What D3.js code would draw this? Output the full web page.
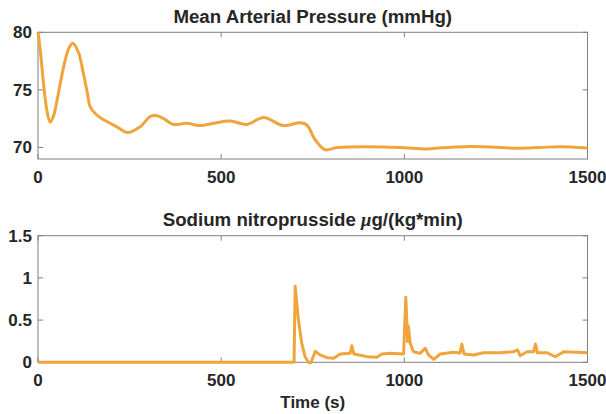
<!DOCTYPE html>
<html>
<head>
<meta charset="utf-8">
<script src="https://cdn.jsdelivr.net/npm/d3@7"></script>
<style>
  body { margin: 0; background: #fff; }
  svg text { font-family: Arial, "Liberation Sans", sans-serif; font-weight: bold; fill: #262626; }
</style>
</head>
<body>
<svg id="chart" width="606" height="414"></svg>
<script>
// Mean arterial pressure (mmHg) over time (s)
const mapTime = [0, 6, 15, 24, 33, 42, 52, 61, 70, 84, 95, 111, 124, 135, 143, 165, 197, 220, 243, 279, 307, 325, 343, 370, 406, 443, 479, 525, 570, 616, 670, 716, 734, 757, 784, 816, 898, 989, 1062, 1100, 1162, 1250, 1307, 1370, 1425, 1500];
const mapValue = [80, 78.5, 75.6, 73.25, 72.2, 72.7, 74.1, 75.6, 77.0, 78.6, 79.05, 78.2, 76.4, 74.7, 73.5, 72.7, 72.1, 71.7, 71.3, 71.8, 72.7, 72.75, 72.5, 72.0, 72.1, 71.9, 72.1, 72.3, 72.0, 72.6, 71.9, 72.15, 71.95, 70.65, 69.8, 70.0, 70.07, 70.0, 69.87, 69.97, 70.07, 70.03, 69.93, 70.0, 70.07, 69.95];

// Sodium nitroprusside dose µg/(kg*min) over time (s)
const snpTime = [0, 699, 702, 711, 720, 729, 738, 745, 757, 770, 789, 807, 825, 852, 857, 862, 898, 925, 939, 961, 998, 1004, 1009, 1011, 1016, 1025, 1043, 1057, 1066, 1080, 1098, 1134, 1152, 1157, 1163, 1189, 1216, 1262, 1298, 1309, 1316, 1335, 1353, 1358, 1363, 1389, 1412, 1435, 1500];
const snpValue = [0, 0, 0.90, 0.50, 0.225, 0.066, 0.0, -0.005, 0.13, 0.087, 0.055, 0.047, 0.098, 0.106, 0.197, 0.098, 0.067, 0.06, 0.098, 0.106, 0.098, 0.77, 0.245, 0.43, 0.225, 0.125, 0.106, 0.166, 0.087, 0.035, 0.098, 0.118, 0.11, 0.213, 0.098, 0.087, 0.114, 0.114, 0.125, 0.146, 0.078, 0.125, 0.125, 0.217, 0.114, 0.114, 0.066, 0.125, 0.114];

const xTicks = [0, 500, 1000, 1500];
const mapTicks = [70, 75, 80];
const snpTicks = [0, 0.5, 1, 1.5];

const svg = d3.select("#chart");
const left = 38, right = 587.5;
const lineColor = "#efa43c";
const axisColor = "#808080";

function drawPanel(opts) {
  const x = d3.scaleLinear().domain([0, 1500]).range([left, right]);
  const y = d3.scaleLinear().domain(opts.yDomain).range([opts.bottom, opts.top]);
  const g = svg.append("g");

  // box with inward ticks on all sides
  g.append("rect")
    .attr("x", left).attr("y", opts.top)
    .attr("width", right - left).attr("height", opts.bottom - opts.top)
    .attr("fill", "none").attr("stroke", axisColor).attr("stroke-width", 1);

  xTicks.forEach(t => {
    g.append("line").attr("x1", x(t)).attr("x2", x(t)).attr("y1", opts.bottom).attr("y2", opts.bottom - 5).attr("stroke", axisColor);
    g.append("line").attr("x1", x(t)).attr("x2", x(t)).attr("y1", opts.top).attr("y2", opts.top + 5).attr("stroke", axisColor);
    g.append("text")
      .attr("x", x(t)).attr("y", opts.bottom + 24)
      .attr("text-anchor", "middle")
      .style("font-size", "17px")
      .text(t);
  });

  opts.yTicks.forEach(t => {
    g.append("line").attr("x1", left).attr("x2", left + 5).attr("y1", y(t)).attr("y2", y(t)).attr("stroke", axisColor);
    g.append("line").attr("x1", right).attr("x2", right - 5).attr("y1", y(t)).attr("y2", y(t)).attr("stroke", axisColor);
    g.append("text")
      .attr("x", left - 6).attr("y", y(t) + 6)
      .attr("text-anchor", "end")
      .style("font-size", "17px")
      .text(t);
  });

  const line = d3.line()
    .x((d, i) => x(opts.time[i]))
    .y(d => y(d))
    .curve(opts.curve);

  g.append("path")
    .datum(opts.values)
    .attr("d", line)
    .attr("fill", "none")
    .attr("stroke", lineColor)
    .attr("stroke-width", 3)
    .attr("stroke-linejoin", "round");

  const title = g.append("text")
    .attr("x", (left + right) / 2).attr("y", opts.top - 9.5)
    .attr("text-anchor", "middle")
    .style("font-size", "18.7px");
  opts.title(title);

  return { x, y };
}

drawPanel({
  top: 32.3, bottom: 159, yDomain: [69, 80], yTicks: mapTicks,
  time: mapTime, values: mapValue, curve: d3.curveCatmullRom.alpha(0.5),
  title: t => t.text("Mean Arterial Pressure (mmHg)")
});

drawPanel({
  top: 235.7, bottom: 362.3, yDomain: [0, 1.5], yTicks: snpTicks,
  time: snpTime, values: snpValue, curve: d3.curveLinear,
  title: t => {
    t.append("tspan").text("Sodium nitroprusside ");
    t.append("tspan").style("font-style", "italic").style("font-family", "'Times New Roman', 'Liberation Serif', serif").text("\u03bc");
    t.append("tspan").text("g/(kg*min)");
  }
});

svg.append("text")
  .attr("x", (left + right) / 2).attr("y", 408)
  .attr("text-anchor", "middle")
  .style("font-size", "17px")
  .text("Time (s)");
</script>
</body>
</html>
